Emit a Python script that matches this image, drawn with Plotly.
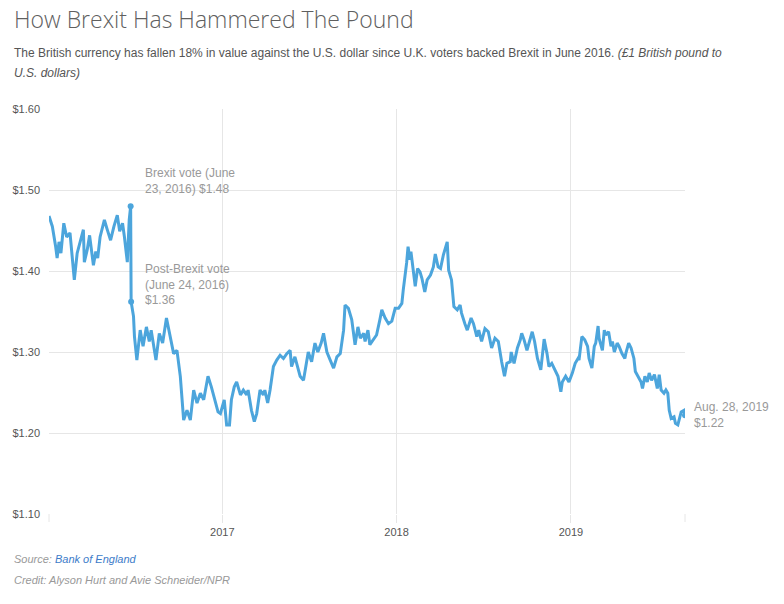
import plotly.graph_objects as go

# GBP -> USD (date, rate)
rates_2016 = [
    ("2016-01-04", 1.468), ("2016-01-11", 1.455), ("2016-01-18", 1.430), ("2016-01-21", 1.416),
    ("2016-01-25", 1.436), ("2016-01-29", 1.422), ("2016-02-04", 1.459), ("2016-02-10", 1.442),
    ("2016-02-17", 1.447), ("2016-02-22", 1.418), ("2016-02-26", 1.389), ("2016-03-03", 1.422),
    ("2016-03-10", 1.436), ("2016-03-16", 1.451), ("2016-03-18", 1.411), ("2016-03-24", 1.426),
    ("2016-03-29", 1.444), ("2016-04-06", 1.407), ("2016-04-11", 1.424), ("2016-04-15", 1.416),
    ("2016-04-20", 1.442), ("2016-04-29", 1.463), ("2016-05-05", 1.451), ("2016-05-12", 1.438),
    ("2016-05-19", 1.455), ("2016-05-26", 1.469), ("2016-05-31", 1.449), ("2016-06-06", 1.459),
    ("2016-06-10", 1.442), ("2016-06-16", 1.411), ("2016-06-20", 1.463), ("2016-06-23", 1.480),
    ("2016-06-24", 1.362), ("2016-06-29", 1.344), ("2016-07-01", 1.319), ("2016-07-06", 1.290),
    ("2016-07-13", 1.327), ("2016-07-19", 1.307), ("2016-07-26", 1.331), ("2016-08-01", 1.313),
    ("2016-08-05", 1.327), ("2016-08-15", 1.290), ("2016-08-22", 1.323), ("2016-08-29", 1.311),
    ("2016-09-06", 1.342), ("2016-09-14", 1.319), ("2016-09-21", 1.298), ("2016-09-28", 1.302),
    ("2016-10-05", 1.270), ("2016-10-12", 1.216), ("2016-10-19", 1.228), ("2016-10-26", 1.216),
    ("2016-11-02", 1.253), ("2016-11-09", 1.237), ("2016-11-16", 1.249), ("2016-11-23", 1.241),
    ("2016-12-02", 1.270), ("2016-12-09", 1.257), ("2016-12-16", 1.243), ("2016-12-23", 1.226),
    ("2016-12-28", 1.224),
]
rates_2017 = [
    ("2017-01-05", 1.241), ("2017-01-10", 1.210), ("2017-01-16", 1.210), ("2017-01-20", 1.241),
    ("2017-01-26", 1.257), ("2017-01-31", 1.263), ("2017-02-08", 1.247), ("2017-02-14", 1.253),
    ("2017-02-21", 1.247), ("2017-02-24", 1.253), ("2017-03-03", 1.228), ("2017-03-09", 1.214),
    ("2017-03-14", 1.224), ("2017-03-21", 1.253), ("2017-03-28", 1.247), ("2017-03-31", 1.253),
    ("2017-04-06", 1.237), ("2017-04-11", 1.253), ("2017-04-18", 1.282), ("2017-04-25", 1.290),
    ("2017-05-02", 1.296), ("2017-05-09", 1.292), ("2017-05-16", 1.298), ("2017-05-23", 1.302),
    ("2017-05-26", 1.282), ("2017-06-02", 1.294), ("2017-06-09", 1.278), ("2017-06-13", 1.270),
    ("2017-06-20", 1.265), ("2017-06-26", 1.286), ("2017-06-30", 1.300), ("2017-07-07", 1.288),
    ("2017-07-14", 1.311), ("2017-07-20", 1.300), ("2017-07-27", 1.311), ("2017-08-01", 1.323),
    ("2017-08-08", 1.300), ("2017-08-15", 1.290), ("2017-08-22", 1.280), ("2017-08-29", 1.294),
    ("2017-09-05", 1.298), ("2017-09-12", 1.327), ("2017-09-15", 1.358), ("2017-09-22", 1.354),
    ("2017-09-29", 1.340), ("2017-10-06", 1.309), ("2017-10-12", 1.331), ("2017-10-17", 1.317),
    ("2017-10-24", 1.323), ("2017-10-27", 1.313), ("2017-11-02", 1.327), ("2017-11-06", 1.309),
    ("2017-11-13", 1.315), ("2017-11-20", 1.321), ("2017-11-27", 1.340), ("2017-12-01", 1.352),
    ("2017-12-08", 1.342), ("2017-12-15", 1.335), ("2017-12-22", 1.338), ("2017-12-29", 1.354),
]
rates_2018 = [
    ("2018-01-05", 1.354), ("2018-01-12", 1.360), ("2018-01-15", 1.377), ("2018-01-18", 1.389),
    ("2018-01-22", 1.410), ("2018-01-25", 1.430), ("2018-01-29", 1.414), ("2018-01-31", 1.424),
    ("2018-02-05", 1.401), ("2018-02-09", 1.381), ("2018-02-14", 1.403), ("2018-02-19", 1.399),
    ("2018-02-23", 1.391), ("2018-03-01", 1.374), ("2018-03-06", 1.389), ("2018-03-13", 1.395),
    ("2018-03-19", 1.405), ("2018-03-23", 1.421), ("2018-03-29", 1.405), ("2018-04-03", 1.403),
    ("2018-04-09", 1.420), ("2018-04-17", 1.436), ("2018-04-20", 1.401), ("2018-04-26", 1.389),
    ("2018-05-01", 1.356), ("2018-05-08", 1.352), ("2018-05-14", 1.358), ("2018-05-17", 1.348),
    ("2018-05-24", 1.335), ("2018-05-29", 1.327), ("2018-06-06", 1.342), ("2018-06-11", 1.335),
    ("2018-06-18", 1.319), ("2018-06-22", 1.327), ("2018-06-28", 1.313), ("2018-07-05", 1.329),
    ("2018-07-12", 1.325), ("2018-07-19", 1.305), ("2018-07-26", 1.317), ("2018-08-02", 1.313),
    ("2018-08-09", 1.288), ("2018-08-15", 1.270), ("2018-08-20", 1.286), ("2018-08-27", 1.288),
    ("2018-08-29", 1.300), ("2018-09-04", 1.286), ("2018-09-11", 1.305), ("2018-09-17", 1.315),
    ("2018-09-20", 1.323), ("2018-09-25", 1.315), ("2018-10-01", 1.302), ("2018-10-05", 1.311),
    ("2018-10-12", 1.325), ("2018-10-17", 1.313), ("2018-10-23", 1.292), ("2018-10-30", 1.278),
    ("2018-11-02", 1.298), ("2018-11-06", 1.316), ("2018-11-12", 1.298), ("2018-11-16", 1.282),
    ("2018-11-22", 1.286), ("2018-11-29", 1.278), ("2018-12-05", 1.270), ("2018-12-11", 1.251),
    ("2018-12-14", 1.263), ("2018-12-21", 1.270), ("2018-12-28", 1.263),
]
rates_2019 = [
    ("2019-01-04", 1.274), ("2019-01-10", 1.286), ("2019-01-16", 1.292), ("2019-01-18", 1.290),
    ("2019-01-24", 1.319), ("2019-01-30", 1.315), ("2019-02-05", 1.307), ("2019-02-08", 1.292),
    ("2019-02-14", 1.280), ("2019-02-19", 1.307), ("2019-02-22", 1.311), ("2019-02-27", 1.332),
    ("2019-03-01", 1.317), ("2019-03-08", 1.302), ("2019-03-12", 1.327), ("2019-03-15", 1.321),
    ("2019-03-21", 1.325), ("2019-03-26", 1.307), ("2019-03-29", 1.313), ("2019-04-02", 1.300),
    ("2019-04-08", 1.311), ("2019-04-12", 1.307), ("2019-04-18", 1.298), ("2019-04-24", 1.292),
    ("2019-04-26", 1.298), ("2019-05-02", 1.311), ("2019-05-07", 1.305), ("2019-05-13", 1.292),
    ("2019-05-16", 1.276), ("2019-05-21", 1.270), ("2019-05-28", 1.263), ("2019-05-31", 1.255),
    ("2019-06-05", 1.270), ("2019-06-10", 1.263), ("2019-06-14", 1.274), ("2019-06-19", 1.265),
    ("2019-06-25", 1.272), ("2019-07-01", 1.255), ("2019-07-05", 1.272), ("2019-07-09", 1.253),
    ("2019-07-15", 1.249), ("2019-07-19", 1.253), ("2019-07-23", 1.249), ("2019-07-26", 1.228),
    ("2019-07-30", 1.218), ("2019-08-05", 1.220), ("2019-08-08", 1.212), ("2019-08-13", 1.210),
    ("2019-08-16", 1.216), ("2019-08-20", 1.226), ("2019-08-26", 1.228), ("2019-08-28", 1.222),
]

# labelled points
note_dates = ["2016-06-23", "2016-06-24", "2019-08-28"]
note_values = [1.48, 1.362, 1.222]
note_texts = ["Brexit vote (June<br>23, 2016) $1.48",
              "Post-Brexit vote<br>(June 24, 2016)<br>$1.36",
              "Aug. 28, 2019<br>$1.22"]

year_ticks = ["2017-01-01", "2018-01-01", "2019-01-01"]
year_labels = ["2017", "2018", "2019"]

all_rates = rates_2016 + rates_2017 + rates_2018 + rates_2019
dates = [d for d, v in all_rates]
values = [v for d, v in all_rates]

BLUE = "#4ca5dc"
GRID = "#e6e6e6"
GREY = "#999999"

fig = go.Figure()
fig.add_trace(go.Scatter(x=dates, y=values, mode="lines",
                         line=dict(color=BLUE, width=3), hoverinfo="skip"))
fig.add_trace(go.Scatter(x=note_dates, y=note_values, mode="markers",
                         marker=dict(color=BLUE, size=6), hoverinfo="skip"))

# where the note text sits relative to its point (pixels)
shifts = [(12, 25), (12, 17), (7, 0)]
for d, v, t, (sx, sy) in zip(note_dates, note_values, note_texts, shifts):
    fig.add_annotation(x=d, y=v, text=t, showarrow=False, xanchor="left", yanchor="middle",
                       align="left", xshift=sx, yshift=sy,
                       font=dict(family="Liberation Sans, Arial", size=12, color=GREY))

PW, PH, L, T = 636, 405, 49, 109
def px(x):
    return (x - L) / PW
def py(y):
    return (T + PH - y) / PH

fig.add_annotation(xref="paper", yref="paper", x=px(12), y=py(19), xanchor="left", yanchor="middle",
                   showarrow=False, text="How Brexit Has Hammered The Pound",
                   font=dict(family="Open Sans", size=23, color="#5f5f5f", weight=300))
fig.add_annotation(xref="paper", yref="paper", x=px(12), y=py(53), xanchor="left", yanchor="middle",
                   showarrow=False,
                   text="The British currency has fallen 18% in value against the U.S. dollar since U.K. voters backed Brexit in June 2016. <i>(£1 British pound to</i>",
                   font=dict(family="Liberation Sans, Arial", size=12, color="#555555"))
fig.add_annotation(xref="paper", yref="paper", x=px(12), y=py(73), xanchor="left", yanchor="middle",
                   showarrow=False, text="<i>U.S. dollars)</i>",
                   font=dict(family="Liberation Sans, Arial", size=12, color="#555555"))
fig.add_annotation(xref="paper", yref="paper", x=px(12), y=py(559), xanchor="left", yanchor="middle",
                   showarrow=False,
                   text="<i>Source: <span style='color:#3d7cc9'>Bank of England</span></i>",
                   font=dict(family="Liberation Sans, Arial", size=11, color=GREY))
fig.add_annotation(xref="paper", yref="paper", x=px(12), y=py(580), xanchor="left", yanchor="middle",
                   showarrow=False, text="<i>Credit: Alyson Hurt and Avie Schneider/NPR</i>",
                   font=dict(family="Liberation Sans, Arial", size=11, color=GREY))

# little end ticks at both sides of the x axis
for xe in [0, 1]:
    fig.add_shape(type="line", xref="paper", yref="paper", x0=xe, x1=xe, y0=0, y1=-8 / PH,
                  line=dict(color=GRID, width=1))

fig.update_layout(
    width=784, height=604,
    margin=dict(l=L, r=784 - L - PW, t=T, b=604 - T - PH),
    plot_bgcolor="white", paper_bgcolor="white",
    showlegend=False,
    font=dict(family="Liberation Sans, Arial", size=11, color="#555555"),
    xaxis=dict(type="date", range=["2016-01-04", "2019-08-28"],
               tickvals=year_ticks, ticktext=year_labels,
               showgrid=True, gridcolor=GRID, zeroline=False, showline=False,
               ticks="outside", ticklen=8, tickcolor=GRID),
    yaxis=dict(range=[1.10, 1.60], dtick=0.1, tickformat="$.2f",
               showgrid=True, gridcolor=GRID, zeroline=False, showline=False,
               ticklabelstandoff=8),
)

# page body has an 8px default margin; drop it so the figure sits at 0,0
fig.write_html("out.html", config={"displayModeBar": False},
               post_script="document.body.style.margin='0';")
